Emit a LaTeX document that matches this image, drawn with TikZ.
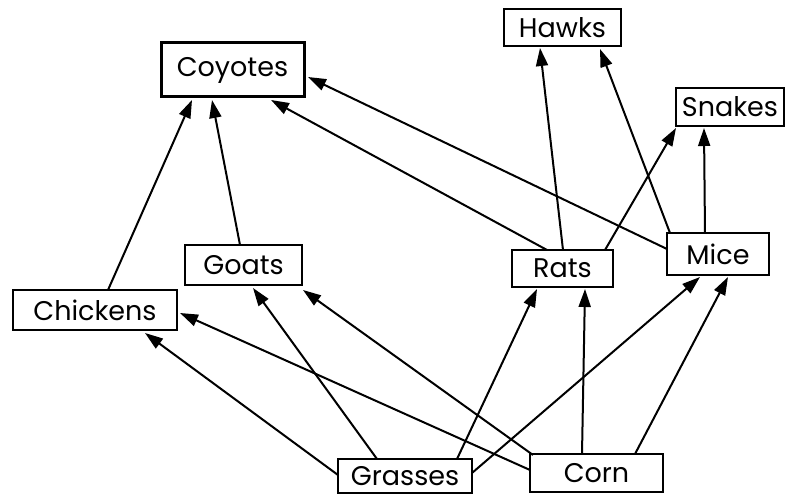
\documentclass[tikz,border=0pt]{standalone}
\usepackage{fontspec}
\setmainfont{Poppins}
\usetikzlibrary{arrows.meta,calc}
\begin{document}
\begin{tikzpicture}[x=1pt,y=-1pt,
  animal/.style={draw, line width=2pt, inner sep=0pt, outer sep=0pt, font=\fontsize{27}{30}\selectfont},
  feeds/.style={line width=2pt, -{Triangle[length=18pt,width=12pt]}}]
\useasboundingbox (0,0) rectangle (785,494);
\node[animal, line width=3pt, minimum width=143pt, minimum height=54pt] (coy) at (232.5,70) {Coyotes};
\node[animal, minimum width=117pt, minimum height=37pt] (hawk) at (562.5,27.5) {Hawks};
\node[animal, minimum width=108pt, minimum height=38pt] (snk) at (730,107) {Snakes};
\node[animal, minimum width=164pt, minimum height=40pt] (chk) at (95,310) {Chickens};
\node[animal, minimum width=117pt, minimum height=40pt] (goat) at (243.5,265) {Goats};
\node[animal, minimum width=101pt, minimum height=37pt] (rat) at (562.5,268.5) {Rats};
\node[animal, minimum width=102pt, minimum height=42pt] (mice) at (718,254) {Mice};
\node[animal, minimum width=134pt, minimum height=34pt] (grs) at (405,476) {Grasses};
\node[animal, minimum width=133pt, minimum height=38pt] (corn) at (596.5,473) {Corn};

\draw[feeds] ($(chk.north west)+(95,0)$) -- ($(coy.south west)+(31,3)$);
\draw[feeds] ($(goat.north west)+(55,0)$) -- ($(coy.south west)+(51,3)$);
\draw[feeds] ($(rat.north west)+(35,0)$) -- ($(coy.south west)+(110,3)$);
\draw[feeds] ($(mice.north west)+(0,16)$) -- ($(coy.south east)+(4,-20)$);
\draw[feeds] ($(rat.north west)+(51,0)$) -- ($(hawk.south west)+(36,2)$);
\draw[feeds] ($(mice.north west)+(3,0)$) -- ($(hawk.south west)+(96,3)$);
\draw[feeds] ($(rat.north west)+(93,0)$) -- ($(snk.south west)+(0,2)$);
\draw[feeds] ($(mice.north west)+(38,0)$) -- ($(snk.south west)+(28,2)$);
\draw[feeds] ($(grs.north west)+(0,16)$) -- ($(chk.south west)+(132,3)$);
\draw[feeds] ($(corn.north west)+(0,16)$) -- ($(chk.north east)+(3,23)$);
\draw[feeds] ($(grs.north west)+(39,0)$) -- ($(goat.south west)+(68,3)$);
\draw[feeds] ($(corn.north west)+(3,1)$) -- ($(goat.south east)+(1,5)$);
\draw[feeds] ($(grs.north west)+(119,0)$) -- ($(rat.south west)+(25,2)$);
\draw[feeds] ($(corn.north west)+(52,0)$) -- ($(rat.south west)+(73,2)$);
\draw[feeds] ($(grs.north east)+(0,14)$) -- ($(mice.south west)+(33,2)$);
\draw[feeds] ($(corn.north west)+(105,0)$) -- ($(mice.south west)+(61,2)$);
\end{tikzpicture}
\end{document}
